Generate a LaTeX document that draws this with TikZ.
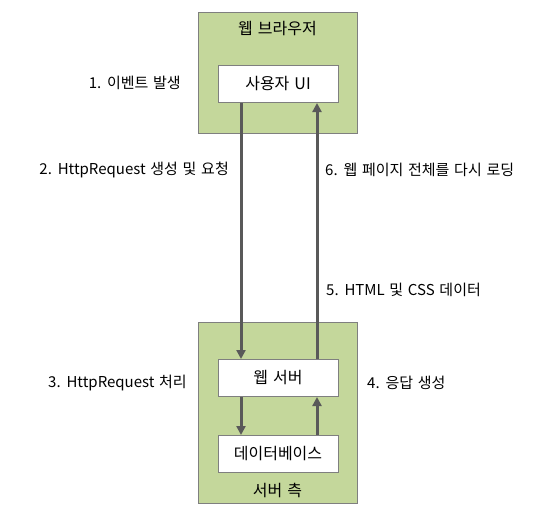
\documentclass[tikz,border=0pt]{standalone}
\usepackage{fontspec}
\setmainfont{Noto Sans CJK KR}[WordSpace=1.4]
\usetikzlibrary{arrows.meta,calc}
\definecolor{grn}{HTML}{C4D79B}
\definecolor{brd}{HTML}{7F7F7F}
\definecolor{arr}{HTML}{595959}
\tikzset{
  zone/.style={draw=brd, fill=grn, line width=1pt, minimum width=159pt, anchor=north west, inner sep=0pt},
  box/.style={draw=brd, fill=white, line width=1pt, minimum width=120pt, minimum height=37pt, inner sep=0pt, font=\fontsize{16}{18}\selectfont},
  ttl/.style={font=\fontsize{16}{18}\selectfont, inner sep=0pt},
  lbl/.style={font=\fontsize{15}{18}\selectfont, inner sep=0pt},
  flow/.style={draw=arr, line width=3pt, -{Triangle[length=9pt,width=9pt]}},
}
\begin{document}
\begin{tikzpicture}[x=1pt,y=-1pt]
\useasboundingbox (0,0) rectangle (553,525);
% zones
\node[zone, minimum height=121pt] (brw) at (198,12) {};
\node[zone, minimum height=181pt] (srv) at (198,322) {};
\node[ttl] (brwt) at (277.5,29) {웹 브라우저};
\node[ttl] (srvt) at (277.5,490) {서버 측};
% boxes
\node[box] (ui) at (278,84) {사용자 UI};
\node[box] (web) at (278,378) {웹 서버};
\node[box] (db) at (278,454) {데이터베이스};
% arrow columns
\coordinate (L) at (241,0);
\coordinate (R) at (317,0);
\draw[flow] (ui.south -| L) -- (web.north -| L);
\draw[flow] (web.north -| R) -- (ui.south -| R);
\draw[flow] (web.south -| L) -- (db.north -| L);
\draw[flow] (db.north -| R) -- (web.south -| R);
% labels
\node[lbl, anchor=east] (l1) at (181,83) {1. 이벤트 발생};
\node[lbl, anchor=east] (l2) at (229,170) {2. HttpRequest 생성 및 요청};
\node[lbl, anchor=east] (l3) at (187,383) {3. HttpRequest 처리};
\node[lbl, anchor=west] (l4) at (367,383) {4. 응답 생성};
\node[lbl, anchor=west] (l5) at (326,290) {5. HTML 및 CSS 데이터};
\node[lbl, anchor=west] (l6) at (325,170) {6. 웹 페이지 전체를 다시 로딩};
\end{tikzpicture}
\end{document}
